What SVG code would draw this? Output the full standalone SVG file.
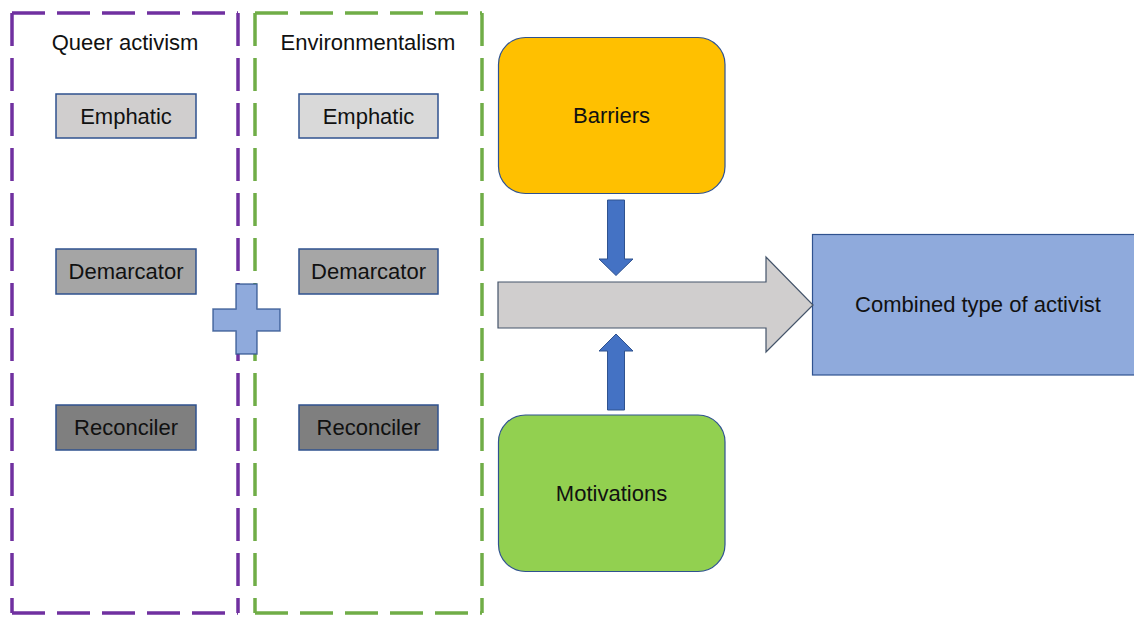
<svg xmlns="http://www.w3.org/2000/svg" width="1134" height="617" viewBox="0 0 1134 617">
<style>
text{font-family:"Liberation Sans",Arial,sans-serif;font-size:22px;fill:#111;text-anchor:middle}
.dash{fill:none;stroke-width:3.5;stroke-dasharray:33 12}
.box{stroke:#2F528F;stroke-width:1.5}
.blue{fill:#4472C4;stroke:#2F528F;stroke-width:1}
</style>
<rect width="1134" height="617" fill="#fff"/>
<g id="queer">
<path class="dash" stroke="#7030A0" d="M12,13 H238 M238,13 V613 M12,13 V613 M12,613 H238"/>
<text x="125" y="50">Queer activism</text>
</g>
<g id="env">
<path class="dash" stroke="#70AD47" d="M255,13 H482 M482,13 V613 M255,13 V613 M255,613 H482"/>
<text x="368" y="50">Environmentalism</text>
</g>
<g id="q-emphatic"><rect class="box" x="56" y="94" width="140" height="44" fill="#D0CECE"/><text x="126" y="124">Emphatic</text></g>
<g id="q-demarcator"><rect class="box" x="56" y="249" width="140" height="45" fill="#A5A5A5"/><text x="126" y="279">Demarcator</text></g>
<g id="q-reconciler"><rect class="box" x="56" y="405" width="140" height="45" fill="#7F7F7F"/><text x="126" y="435">Reconciler</text></g>
<g id="e-emphatic"><rect class="box" x="299" y="94" width="139" height="44" fill="#D9D9D9"/><text x="368.5" y="124">Emphatic</text></g>
<g id="e-demarcator"><rect class="box" x="299" y="249" width="139" height="45" fill="#A6A6A6"/><text x="368.5" y="279">Demarcator</text></g>
<g id="e-reconciler"><rect class="box" x="299" y="405" width="139" height="45" fill="#7F7F7F"/><text x="368.5" y="435">Reconciler</text></g>
<g id="plus"><path d="M236,284 H257 V309 H280 V331 H257 V354 H236 V331 H213 V309 H236 Z" fill="#8FAADC" stroke="#2F528F" stroke-width="1.5" stroke-opacity="0.8"/></g>
<g id="barriers"><rect x="498.5" y="37.5" width="226.5" height="156" rx="27" fill="#FFC000" stroke="#2F528F" stroke-width="1.2"/><text x="611.5" y="123">Barriers</text></g>
<g id="motivations"><rect x="498.5" y="415" width="226.5" height="156.5" rx="27" fill="#92D050" stroke="#2F528F" stroke-width="1.2"/><text x="611.5" y="500.5">Motivations</text></g>
<g id="combined"><rect x="812.5" y="234.5" width="325" height="140.5" fill="#8FAADC" stroke="#2F528F" stroke-width="1.2"/><text x="978" y="312">Combined type of activist</text></g>
<g id="connectors">
<path d="M498,282 H766 V257 L813,305 L766,352 V328 H498 Z" fill="#D0CECE" stroke="#44546A" stroke-width="1.2"/>
<path class="blue" d="M607.5,200 H624.5 V259 H633 L616,275.5 L599,259 H607.5 Z"/>
<path class="blue" d="M607.5,410 H624.5 V351 H633 L616,334 L599,351 H607.5 Z"/>
</g>
</svg>
